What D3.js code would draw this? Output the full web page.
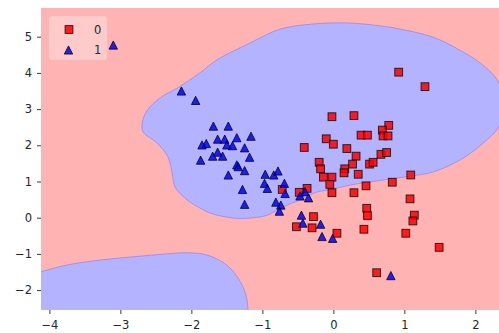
<!DOCTYPE html>
<html>
<head>
<meta charset="utf-8">
<script src="https://cdn.jsdelivr.net/npm/d3@7"></script>
<style>
  body { margin: 0; background: #fff; }
  svg { display: block; font-family: "DejaVu Sans", sans-serif; }
</style>
</head>
<body>
<svg id="chart" width="499" height="333"></svg>
<script>
// class 0 samples (red squares), [x, y]
const class0 = [
  [0.92, 4.02], [1.29, 3.62], [-0.02, 2.79], [0.29, 2.82], [0.78, 2.55], [0.69, 2.42],
  [0.39, 2.28], [0.48, 2.28], [0.70, 2.26], [0.77, 2.26], [-0.41, 1.94], [-0.10, 2.18],
  [0.00, 2.03], [0.19, 1.91], [0.32, 1.70], [0.67, 1.75], [0.75, 1.80], [-0.20, 1.53],
  [-0.18, 1.35], [0.27, 1.48], [0.16, 1.35], [0.15, 1.24], [0.51, 1.48], [0.56, 1.53],
  [0.35, 1.20], [-0.14, 1.12], [-0.02, 1.12], [-0.05, 0.92], [-0.02, 0.69], [0.29, 0.69],
  [0.46, 0.88], [0.83, 0.98], [1.09, 1.18], [-0.72, 0.78], [-0.37, 0.81], [-0.48, 0.70],
  [-0.28, 0.03], [0.47, 0.26], [0.48, 0.06], [1.08, 0.52], [1.14, 0.07], [1.12, -0.09],
  [-0.52, -0.25], [-0.30, -0.28], [0.05, -0.43], [0.43, -0.32], [1.02, -0.43], [1.49, -0.82],
  [0.61, -1.52]
];

// class 1 samples (blue triangles), [x, y]
const class1 = [
  [-3.10, 4.77], [-2.14, 3.50], [-1.94, 3.24], [-1.69, 2.53], [-1.48, 2.53], [-1.16, 2.25],
  [-1.36, 2.21], [-1.63, 2.17], [-1.53, 2.17], [-1.79, 2.05], [-1.85, 2.01], [-1.50, 2.01],
  [-1.42, 1.99], [-1.25, 1.93], [-1.63, 1.81], [-1.70, 1.70], [-1.56, 1.70], [-1.18, 1.67],
  [-1.87, 1.59], [-1.36, 1.46], [-1.34, 1.41], [-1.25, 1.30], [-1.48, 1.18], [-1.28, 0.78],
  [-1.25, 0.37], [-0.96, 1.20], [-0.84, 1.18], [-0.78, 1.29], [-0.97, 0.95], [-0.93, 0.81],
  [-0.69, 0.95], [-0.68, 0.67], [-0.81, 0.43], [-0.74, 0.35], [-0.76, 0.18], [-0.47, 0.60],
  [-0.40, 0.72], [-0.35, 0.55], [-0.45, 0.07], [-0.43, -0.15], [-0.18, -0.18], [-0.16, -0.52],
  [-0.01, -0.57], [0.81, -1.60]
];

// decision boundary of the big class-1 region (closed loop)
const regionMain = [
  [-2.69, 2.64], [-2.62, 2.97], [-2.44, 3.31], [-2.20, 3.58], [-1.88, 4.00], [-1.64, 4.36],
  [-1.17, 4.83], [-0.75, 5.21], [-0.29, 5.35], [0.19, 5.38], [0.66, 5.30], [0.94, 5.21],
  [1.40, 4.99], [1.78, 4.63], [2.07, 4.27], [2.31, 3.80], [2.42, 3.11], [2.33, 2.51],
  [2.11, 2.06], [1.78, 1.59], [1.40, 1.26], [1.09, 1.15], [0.70, 1.04], [0.23, 0.90],
  [-0.05, 0.77], [-0.23, 0.71], [-0.47, 0.49], [-0.71, 0.30], [-0.93, 0.07], [-1.17, -0.01],
  [-1.41, -0.01], [-1.74, 0.13], [-1.88, 0.27], [-2.06, 0.49], [-2.23, 0.85], [-2.27, 1.23],
  [-2.33, 1.68], [-2.48, 2.06], [-2.68, 2.37]
];

// upper edge of the class-1 region in the lower left corner
const regionLower = [
  [-4.30, -1.55], [-4.12, -1.49], [-3.76, -1.31], [-3.29, -1.17], [-2.82, -1.08], [-2.35, -1.00],
  [-2.06, -0.97], [-1.78, -1.03], [-1.50, -1.31], [-1.31, -1.77], [-1.22, -2.23], [-1.20, -2.70]
];

const classLabels = ['0', '1'];
const xTicks = [-4, -3, -2, -1, 0, 1, 2];
const yTicks = [-2, -1, 0, 1, 2, 3, 4, 5];

const plotLeft = 41, plotRight = 499, plotTop = 8, plotBottom = 310;

const svg = d3.select('#chart');

const x = d3.scaleLinear().domain([-4.118, 2.333]).range([plotLeft, plotRight]);
const y = d3.scaleLinear().domain([-2.55, 5.793]).range([plotBottom, plotTop]);

svg.append('clipPath').attr('id', 'plot-clip')
  .append('rect')
  .attr('x', plotLeft).attr('y', plotTop)
  .attr('width', plotRight - plotLeft).attr('height', plotBottom - plotTop);

const plot = svg.append('g').attr('clip-path', 'url(#plot-clip)');

// class 0 background
plot.append('rect')
  .attr('x', plotLeft).attr('y', plotTop)
  .attr('width', plotRight - plotLeft).attr('height', plotBottom - plotTop)
  .attr('fill', '#ffb3b3');

const blueFill = '#b3b3ff';
const edge = '#a08ce6';

const loop = d3.line()
  .x(d => x(d[0]))
  .y(d => y(d[1]))
  .curve(d3.curveCatmullRomClosed.alpha(0.5));

plot.append('path')
  .attr('d', loop(regionMain))
  .attr('fill', blueFill)
  .attr('stroke', edge)
  .attr('stroke-width', 0.9);

const open = d3.line()
  .x(d => x(d[0]))
  .y(d => y(d[1]))
  .curve(d3.curveCatmullRom.alpha(0.5));

const last = regionLower[regionLower.length - 1];
const first = regionLower[0];
plot.append('path')
  .attr('d', open(regionLower) +
    `L${x(last[0])},${y(-3)}L${x(first[0])},${y(-3)}Z`)
  .attr('fill', blueFill)
  .attr('stroke', edge)
  .attr('stroke-width', 0.9);

// markers
const sqSide = 7.8;
const triW = 8.4, triH = 8.2;
const triPath = `M0,${-triH / 2}L${triW / 2},${triH / 2}L${-triW / 2},${triH / 2}Z`;

plot.selectAll('rect.c0')
  .data(class0)
  .enter().append('rect')
  .attr('class', 'c0')
  .attr('x', d => x(d[0]) - sqSide / 2)
  .attr('y', d => y(d[1]) - sqSide / 2)
  .attr('width', sqSide).attr('height', sqSide)
  .attr('fill', 'red').attr('fill-opacity', 0.85)
  .attr('stroke', 'black').attr('stroke-opacity', 0.75).attr('stroke-width', 1);

plot.selectAll('path.c1')
  .data(class1)
  .enter().append('path')
  .attr('class', 'c1')
  .attr('d', triPath)
  .attr('transform', d => `translate(${x(d[0])},${y(d[1])})`)
  .attr('fill', 'blue').attr('fill-opacity', 0.85)
  .attr('stroke', 'black').attr('stroke-opacity', 0.75).attr('stroke-width', 1);

// axes, no spines
const textColor = '#262626';
const fmt = d3.format('d');

const xAxis = svg.append('g')
  .attr('transform', `translate(0,${plotBottom})`)
  .call(d3.axisBottom(x).tickValues(xTicks).tickFormat(fmt)
    .tickSize(4).tickPadding(7).tickSizeOuter(0));

const yAxis = svg.append('g')
  .attr('transform', `translate(${plotLeft},0)`)
  .call(d3.axisLeft(y).tickValues(yTicks).tickFormat(fmt)
    .tickSize(4).tickPadding(5).tickSizeOuter(0));

[xAxis, yAxis].forEach(g => {
  g.select('.domain').remove();
  g.selectAll('line').attr('stroke', textColor).attr('stroke-width', 0.9);
  g.selectAll('text')
    .attr('fill', textColor)
    .style('font-size', '11.5px')
    .style('font-family', '"DejaVu Sans", sans-serif');
});

// legend
const legend = svg.append('g');
legend.append('rect')
  .attr('x', 49).attr('y', 16)
  .attr('width', 58).attr('height', 44)
  .attr('rx', 3)
  .attr('fill', 'white').attr('fill-opacity', 0.3)
  .attr('stroke', '#cccccc').attr('stroke-opacity', 0.3);

legend.append('rect')
  .attr('x', 69 - sqSide / 2).attr('y', 29.5 - sqSide / 2)
  .attr('width', sqSide).attr('height', sqSide)
  .attr('fill', 'red').attr('fill-opacity', 0.85)
  .attr('stroke', 'black').attr('stroke-opacity', 0.75);

legend.append('path')
  .attr('d', triPath)
  .attr('transform', 'translate(68.5,50)')
  .attr('fill', 'blue').attr('fill-opacity', 0.85)
  .attr('stroke', 'black').attr('stroke-opacity', 0.75);

legend.selectAll('text')
  .data(classLabels)
  .enter().append('text')
  .attr('x', 94)
  .attr('y', (d, i) => 33.5 + i * 20.7)
  .attr('fill', textColor)
  .style('font-size', '11.5px')
  .text(d => d);
</script>
</body>
</html>
